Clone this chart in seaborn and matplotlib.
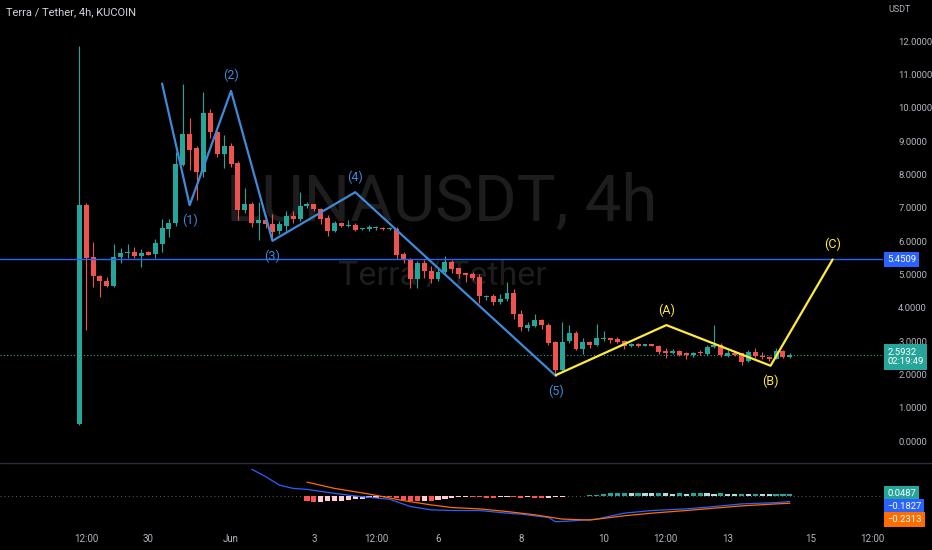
import numpy as np
import pandas as pd
import matplotlib
matplotlib.use('Agg')
import matplotlib.pyplot as plt
from matplotlib.ticker import FormatStrFormatter
import seaborn as sns

# ── data (4h candles, first bar 2022-05-28 08:00) ────────────────────────────
start_time = "2022-05-28 08:00"

opens = [0.50, 7.10, 5.51, 4.95, 4.80, 4.65, 5.51, 5.64, 5.67, 5.55,
         5.66, 5.60, 5.91, 6.36, 6.56, 8.30, 9.23, 8.80, 8.08, 9.86,
         9.28, 8.63, 8.85, 8.35, 6.93, 7.13, 6.56, 6.65, 6.51, 6.30,
         6.46, 6.76, 6.68, 7.06, 7.11, 6.96, 6.70, 6.31, 6.55, 6.46,
         6.50, 6.36, 6.38, 6.39, 6.41, 6.36, 6.38, 5.60, 5.45, 4.86,
         5.35, 5.11, 4.86, 5.06, 5.36, 5.18, 5.03, 5.00, 4.93, 4.31,
         4.35, 4.16, 4.25, 4.45, 3.81, 3.40, 3.46, 3.63, 3.49, 2.98,
         2.13, 3.00, 3.25, 2.76, 2.96, 2.88, 3.05, 3.09, 3.06, 3.01,
         2.86, 2.91, 2.86, 2.91, 2.85, 2.69, 2.65, 2.69, 2.63, 2.58,
         2.66, 2.61, 2.81, 2.88, 2.55, 2.65, 2.63, 2.40, 2.68, 2.56,
         2.53, 2.47, 2.69, 2.53]
highs = [11.85, 7.15, 5.98, 4.98, 4.91, 5.91, 5.78, 5.90, 5.83, 5.75,
         5.70, 6.07, 6.68, 6.68, 8.68, 10.73, 9.71, 8.85, 10.48, 9.98,
         9.30, 9.20, 8.95, 8.40, 7.61, 7.18, 7.18, 6.80, 6.83, 6.60,
         6.91, 6.90, 7.48, 7.18, 7.13, 7.00, 6.78, 6.60, 6.58, 6.63,
         6.55, 6.40, 6.50, 6.45, 6.44, 6.42, 6.42, 5.68, 5.50, 5.40,
         5.42, 5.25, 5.20, 5.55, 5.42, 5.20, 5.05, 5.07, 5.00, 4.38,
         4.40, 4.41, 4.78, 4.55, 3.93, 3.58, 3.81, 3.66, 3.54, 3.00,
         3.58, 3.48, 3.31, 3.08, 3.00, 3.51, 3.31, 3.10, 3.12, 3.03,
         2.95, 2.93, 2.92, 2.92, 2.88, 2.80, 2.76, 2.72, 2.66, 2.68,
         2.72, 2.88, 3.48, 2.93, 2.72, 2.68, 2.65, 2.72, 2.78, 2.68,
         2.55, 2.78, 2.74, 2.64]
lows = [0.48, 3.33, 4.63, 4.33, 4.63, 4.62, 5.33, 5.48, 5.50, 5.21,
        5.57, 5.50, 5.66, 6.13, 6.46, 8.25, 8.13, 7.23, 7.93, 9.10,
        8.53, 8.21, 8.23, 6.65, 6.85, 6.43, 6.03, 6.40, 6.03, 6.20,
        6.30, 6.55, 6.60, 7.00, 6.90, 6.53, 6.16, 6.28, 6.44, 6.44,
        6.29, 6.33, 6.30, 6.35, 6.33, 6.33, 5.45, 5.33, 4.58, 4.58,
        4.88, 4.73, 4.80, 5.00, 5.05, 4.88, 4.78, 4.83, 4.13, 4.22,
        4.08, 4.10, 4.20, 3.67, 3.30, 3.30, 3.42, 3.35, 2.88, 1.98,
        2.10, 2.93, 2.73, 2.60, 2.78, 2.85, 3.00, 2.95, 2.95, 2.75,
        2.83, 2.82, 2.84, 2.84, 2.62, 2.48, 2.60, 2.55, 2.45, 2.52,
        2.58, 2.58, 2.78, 2.52, 2.52, 2.55, 2.28, 2.38, 2.50, 2.45,
        2.40, 2.45, 2.48, 2.50]
closes = [7.08, 5.49, 4.95, 4.80, 4.66, 5.51, 5.65, 5.67, 5.55, 5.65,
          5.59, 5.93, 6.40, 6.56, 8.31, 9.23, 8.75, 8.08, 9.86, 9.28,
          8.63, 8.85, 8.33, 6.93, 7.13, 6.56, 6.65, 6.51, 6.28, 6.51,
          6.76, 6.66, 7.06, 7.11, 6.96, 6.68, 6.31, 6.56, 6.46, 6.49,
          6.33, 6.38, 6.41, 6.41, 6.36, 6.38, 5.58, 5.45, 4.86, 5.35,
          5.10, 4.86, 5.08, 5.36, 5.16, 5.01, 4.99, 4.88, 4.35, 4.35,
          4.16, 4.26, 4.45, 3.80, 3.41, 3.47, 3.63, 3.48, 2.95, 2.13,
          2.98, 3.25, 2.76, 2.96, 2.88, 3.09, 3.09, 3.03, 2.98, 2.86,
          2.91, 2.85, 2.91, 2.86, 2.67, 2.65, 2.69, 2.58, 2.58, 2.65,
          2.63, 2.81, 2.88, 2.58, 2.65, 2.58, 2.38, 2.66, 2.56, 2.51,
          2.47, 2.69, 2.51, 2.5932]

# MACD pane
hist_start = 33
hist_vals = [-0.16, -0.19, -0.18, -0.17, -0.16, -0.15, -0.13, -0.11, -0.09, -0.08,
             -0.06, -0.05, -0.05, -0.08, -0.12, -0.16, -0.17, -0.16, -0.17, -0.14,
             -0.10, -0.07, -0.05, -0.03, -0.03, -0.05, -0.06, -0.06, -0.04, -0.03,
             -0.05, -0.06, -0.05, -0.07, -0.08, -0.06, -0.05, -0.03, -0.02, -0.01,
             0.00, 0.01, 0.03, 0.05, 0.07, 0.08, 0.09, 0.08, 0.09, 0.08,
             0.07, 0.08, 0.07, 0.06, 0.07, 0.06, 0.07, 0.08, 0.07, 0.06,
             0.07, 0.06, 0.05, 0.06, 0.05, 0.06, 0.05, 0.04, 0.05, 0.05,
             0.05]
macd_idx = [25, 27, 29, 31, 33, 37, 40, 45, 48, 51, 54, 58, 62, 64, 68, 69,
            71, 75, 79, 83, 88, 92, 96, 101, 103]
macd_vals = [0.80, 0.58, 0.32, 0.22, 0.19, 0.07, -0.01, -0.11, -0.33, -0.43,
             -0.45, -0.45, -0.53, -0.56, -0.66, -0.79, -0.77, -0.71, -0.53,
             -0.45, -0.40, -0.33, -0.25, -0.21, -0.18]
signal_idx = [33, 37, 42, 47, 51, 54, 58, 62, 66, 70, 74, 79, 83, 88, 92, 96,
              101, 103]
signal_vals = [0.41, 0.22, 0.05, -0.15, -0.28, -0.36, -0.40, -0.48, -0.58,
               -0.71, -0.74, -0.61, -0.53, -0.45, -0.38, -0.31, -0.25, -0.23]
hist_last, macd_last, signal_last = 0.0487, -0.1827, -0.2313

# drawings
wave_idx = [12.0, 16.0, 22.0, 28.0, 40.0, 69.1]
wave_vals = [10.73, 7.08, 10.51, 6.01, 7.47, 1.95]
wave_labels = ["", "(1)", "(2)", "(3)", "(4)", "(5)"]
abc_idx = [69.1, 85.1, 100.2, 109.2]
abc_vals = [1.98, 3.48, 2.26, 5.45]
abc_labels = ["", "(A)", "(B)", "(C)"]

level = 5.4509
last_price = 2.5932
countdown = "02:19:49"
price_ticks = list(range(0, 13))
time_ticks = ["2022-05-28 12:00", "2022-05-30", "2022-06-01", "2022-06-03",
              "2022-06-04 12:00", "2022-06-06", "2022-06-08", "2022-06-10",
              "2022-06-11 12:00", "2022-06-13", "2022-06-15", "2022-06-16 12:00"]
time_labels = ["12:00", "30", "Jun", "3", "12:00", "6", "8", "10",
               "12:00", "13", "15", "12:00"]

# ── style ──────────────────────────────────────────────────────────────────
sns.set_theme(style="dark", rc={"axes.facecolor": "#000000",
                                "figure.facecolor": "#000000"})
plt.rcParams['font.family'] = ['Roboto', 'DejaVu Sans']

UP, DOWN = "#26a69a", "#ef5350"
TXT = "#b2b5be"
WAVE = "#3f8ad8"
YEL = "#ffeb3b"
BLUE = "#2962ff"
ORANGE = "#ff6d00"
MARK = "#1d1d1d"

W, H = 932, 550
fig = plt.figure(figsize=(W / 100, H / 100), dpi=100)

def px_axes(x0, y0, x1, y1):
    return fig.add_axes([x0 / W, 1 - y1 / H, (x1 - x0) / W, (y1 - y0) / H])

ax = px_axes(0, 0, 883, 462)
mx = px_axes(0, 463, 883, 527)
tx = px_axes(0, 527, 886, 550)

n = len(opens)
xs = np.arange(n)
o, h, l, c = map(np.array, (opens, highs, lows, closes))
col = np.where(c >= o, UP, DOWN)
xlim = (-11.49, 116.5)

# ── main pane ─────────────────────────────────────────────────────────────
ax.text(0.5, 1 - 221 / 462, "LUNAUSDT, 4h", transform=ax.transAxes,
        ha="center", va="baseline", fontsize=47, color=MARK, zorder=0)
ax.text(0.501, 1 - 285 / 462, "Terra / Tether", transform=ax.transAxes,
        ha="center", va="baseline", fontsize=24.5, color=MARK, zorder=0)

ax.vlines(xs, l, h, colors=col, lw=0.8, zorder=2)
body = np.maximum(np.abs(c - o), 0.035)
ax.bar(xs, body, bottom=np.minimum(o, c), width=0.72, color=col,
       linewidth=0, zorder=3)

ax.axhline(level, color=BLUE, lw=1.0, zorder=4)
ax.axhline(last_price, color=UP, lw=0.8, ls=(0, (1, 2)), zorder=1)

sns.lineplot(x=wave_idx, y=wave_vals, ax=ax, color=WAVE, lw=1.6,
             sort=False, zorder=5)
sns.lineplot(x=abc_idx, y=abc_vals, ax=ax, color=YEL, lw=1.6,
             sort=False, zorder=5)

def put_labels(xv, yv, labels, color):
    for i, (xx, yy, t) in enumerate(zip(xv, yv, labels)):
        if not t:
            continue
        up = yy > yv[i - 1]
        ax.annotate(t, (xx, yy), xytext=(0, 11 if up else -11),
                    textcoords="offset points", ha="center", va="center",
                    color=color, fontsize=9, zorder=6)

put_labels(wave_idx, wave_vals, wave_labels, WAVE)
put_labels(abc_idx, abc_vals, abc_labels, YEL)

ax.set_xlim(*xlim)
ax.set_ylim(-0.63, 13.24)
ax.set_xticks([])
ax.set_yticks(price_ticks)
ax.yaxis.set_major_formatter(FormatStrFormatter('%.4f'))
ax.tick_params(axis='y', left=False, right=False, labelleft=False,
               labelright=True, pad=5, labelsize=6.8, labelcolor=TXT)
for s in ax.spines.values():
    s.set_visible(False)
ax.set_xlabel("")
ax.set_ylabel("")

ax.annotate(f"{level:.4f}", (1, level), xycoords=ax.get_yaxis_transform(),
            xytext=(3, 0), textcoords="offset points", ha="left", va="center",
            fontsize=6.8, color="white", zorder=10, annotation_clip=False,
            bbox=dict(boxstyle="square,pad=0.3", fc=BLUE, ec="none"))
ax.annotate(f"{last_price:.4f}\n{countdown}", (1, last_price),
            xycoords=ax.get_yaxis_transform(), xytext=(3, 5),
            textcoords="offset points", ha="left", va="top", fontsize=6.8,
            color="white", zorder=10, annotation_clip=False, linespacing=1.1,
            bbox=dict(boxstyle="square,pad=0.35", fc=UP, ec="none"))

# ── MACD pane ─────────────────────────────────────────────────────────────
hv = np.array(hist_vals)
hx = np.arange(hist_start, hist_start + len(hv))
hcol = []
prev = None
for v in hv:
    if v >= 0:
        hcol.append("#26a69a" if prev is None or v >= prev else "#b2dfdb")
    else:
        hcol.append("#ff5252" if prev is None or v <= prev else "#ffcdd2")
    prev = v
mx.bar(hx, hv, width=0.75, color=hcol, linewidth=0, zorder=2)
mx.axhline(0, color="#5d606b", lw=0.7, ls=(0, (1, 3)), zorder=1)
sns.lineplot(x=macd_idx, y=macd_vals, ax=mx, color=BLUE, lw=0.9,
             sort=False, zorder=3)
sns.lineplot(x=signal_idx, y=signal_vals, ax=mx, color=ORANGE, lw=0.9,
             sort=False, zorder=3)
mx.set_xlim(*xlim)
mx.set_ylim(-0.95, 0.99)
mx.set_xticks([])
mx.set_yticks([])
for s in mx.spines.values():
    s.set_visible(False)
mx.set_xlabel("")
mx.set_ylabel("")

for val, off, fc in [(hist_last, 1, UP), (macd_last, -5, BLUE),
                     (signal_last, -16, ORANGE)]:
    mx.annotate(f"{val:.4f}".replace("-", "\u2212"), (1, val),
                xycoords=mx.get_yaxis_transform(), xytext=(3, off * 0.72),
                textcoords="offset points", ha="left", va="center",
                fontsize=6.8, color="white", annotation_clip=False, zorder=10,
                bbox=dict(boxstyle="square,pad=0.3", fc=fc, ec="none"))

# ── time axis ─────────────────────────────────────────────────────────────
t0 = pd.Timestamp(start_time)
tx.set_xlim(xlim[0], xlim[0] + (xlim[1] - xlim[0]) * 886 / 883)
tx.set_ylim(0, 1)
tx.axis("off")
for t, lab in zip(time_ticks, time_labels):
    pos = (pd.Timestamp(t) - t0) / pd.Timedelta(hours=4)
    tx.text(pos, 0.48, lab, ha="center", va="center", fontsize=7,
            color=TXT, clip_on=True)

# ── frame texts / separators ──────────────────────────────────────────────
fig.add_artist(plt.Line2D([0, 1], [1 - 462.5 / H, 1 - 462.5 / H],
                          color="#2a2e39", lw=1.0))
fig.text(6 / W, 1 - 12 / H, "Terra / Tether, 4h, KUCOIN", fontsize=8,
         color="#d1d4dc", va="center", ha="left")
fig.text(900 / W, 1 - 10 / H, "USDT", fontsize=6.5, color=TXT,
         va="center", ha="center")

fig.savefig("out.png", dpi=100, facecolor="#000000")
